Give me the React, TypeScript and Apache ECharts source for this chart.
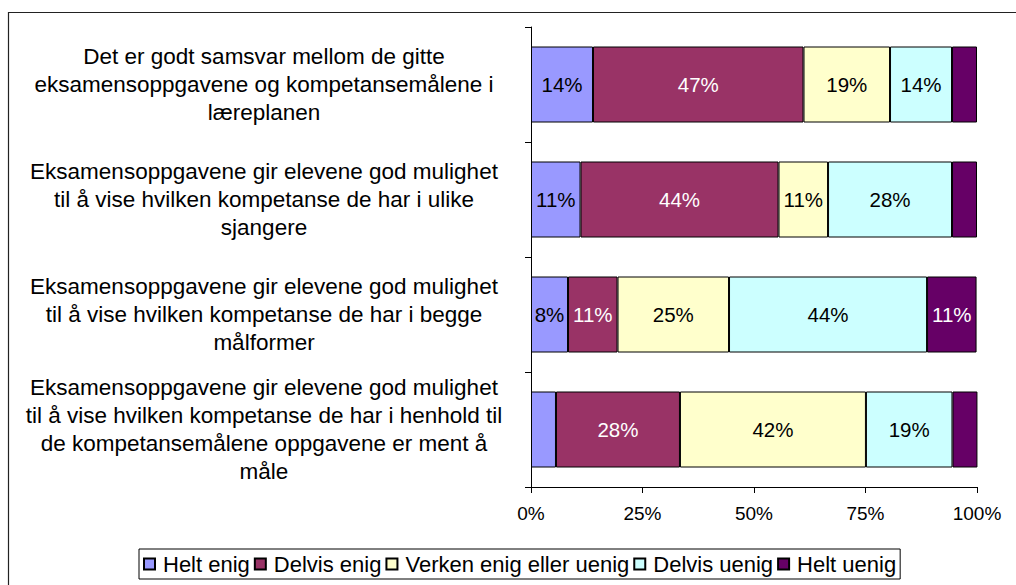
import React, { useEffect, useRef } from "react";
import * as echarts from "echarts";

const categories = [
  "Det er godt samsvar mellom de gitte\neksamensoppgavene og kompetansemålene i\nlæreplanen",
  "Eksamensoppgavene gir elevene god mulighet\ntil å vise hvilken kompetanse de har i ulike\nsjangere",
  "Eksamensoppgavene gir elevene god mulighet\ntil å vise hvilken kompetanse de har i begge\nmålformer",
  "Eksamensoppgavene gir elevene god mulighet\ntil å vise hvilken kompetanse de har i henhold til\nde kompetansemålene oppgavene er ment å\nmåle",
];

const seriesNames = ["Helt enig", "Delvis enig", "Verken enig eller uenig", "Delvis uenig", "Helt uenig"];
const heltEnig = [13.9, 11.1, 8.3, 5.6];
const delvisEnig = [47.2, 44.4, 11.1, 27.8];
const verken = [19.4, 11.1, 25.0, 41.7];
const delvisUenig = [13.9, 27.8, 44.4, 19.4];
const heltUenig = [5.6, 5.6, 11.1, 5.6];
const xTicks = [0, 25, 50, 75, 100];

const colors = ["#9999FF", "#993366", "#FFFFCC", "#CCFFFF", "#660066"];
const labelColors = ["#000", "#fff", "#000", "#000", "#fff"];

const FONT = "'Liberation Sans', Arial, sans-serif";

export default function App() {
  const ref = useRef<HTMLDivElement>(null);
  useEffect(() => {
    if (!ref.current) return;
    const chart = echarts.init(ref.current, undefined, { renderer: "svg" });
    const data = [heltEnig, delvisEnig, verken, delvisUenig, heltUenig];
    chart.setOption({
      animation: false,
      backgroundColor: "#fff",
      textStyle: { fontFamily: FONT },
      graphic: [
        {
          type: "rect",
          shape: { x: 8.5, y: 12.5, width: 1100, height: 700 },
          style: { fill: "none", stroke: "#222", lineWidth: 1.2 },
          silent: true,
          z: 0,
        },
      ],
      grid: { left: 531, right: 39, top: 27, bottom: 98, containLabel: false },
      legend: {
        data: seriesNames,
        left: 139,
        top: 549,
        orient: "horizontal",
        itemWidth: 11,
        itemHeight: 11,
        itemGap: 4,
        padding: [4, 4, 4, 4],
        borderColor: "#000",
        borderWidth: 1,
        icon: "rect",
        textStyle: { fontSize: 22, color: "#000", fontFamily: FONT, padding: [0, 0, 0, 3] },
      },
      xAxis: {
        type: "value",
        min: xTicks[0],
        max: xTicks[xTicks.length - 1],
        interval: 25,
        axisLine: { show: true, lineStyle: { color: "#000", width: 1 } },
        axisTick: { show: true, length: 6, lineStyle: { color: "#000" } },
        splitLine: { show: false },
        axisLabel: {
          formatter: "{value}%",
          fontSize: 19,
          color: "#000",
          margin: 17,
          fontFamily: FONT,
        },
      },
      yAxis: {
        type: "category",
        data: categories,
        inverse: true,
        axisLine: { show: true, lineStyle: { color: "#000", width: 1 } },
        axisTick: { show: true, length: 6, lineStyle: { color: "#000" } },
        axisLabel: {
          fontSize: 22.5,
          lineHeight: 28,
          align: "center",
          margin: 267,
          color: "#000",
          fontFamily: FONT,
        },
      },
      series: seriesNames.map((name, i) => ({
        name,
        type: "bar",
        stack: "total",
        barWidth: 76,
        data: data[i],
        itemStyle: { color: colors[i], borderColor: "#000", borderWidth: 1 },
        label: {
          show: true,
          position: "inside",
          color: labelColors[i],
          fontSize: 20.5,
          fontFamily: FONT,
          formatter: (p: any) => (p.value >= 7 ? Math.round(p.value) + "%" : ""),
        },
      })),
    });
    return () => chart.dispose();
  }, []);
  return (
    <div
      ref={ref}
      style={{ position: "absolute", left: 0, top: 0, width: 1016, height: 585 }}
    />
  );
}
